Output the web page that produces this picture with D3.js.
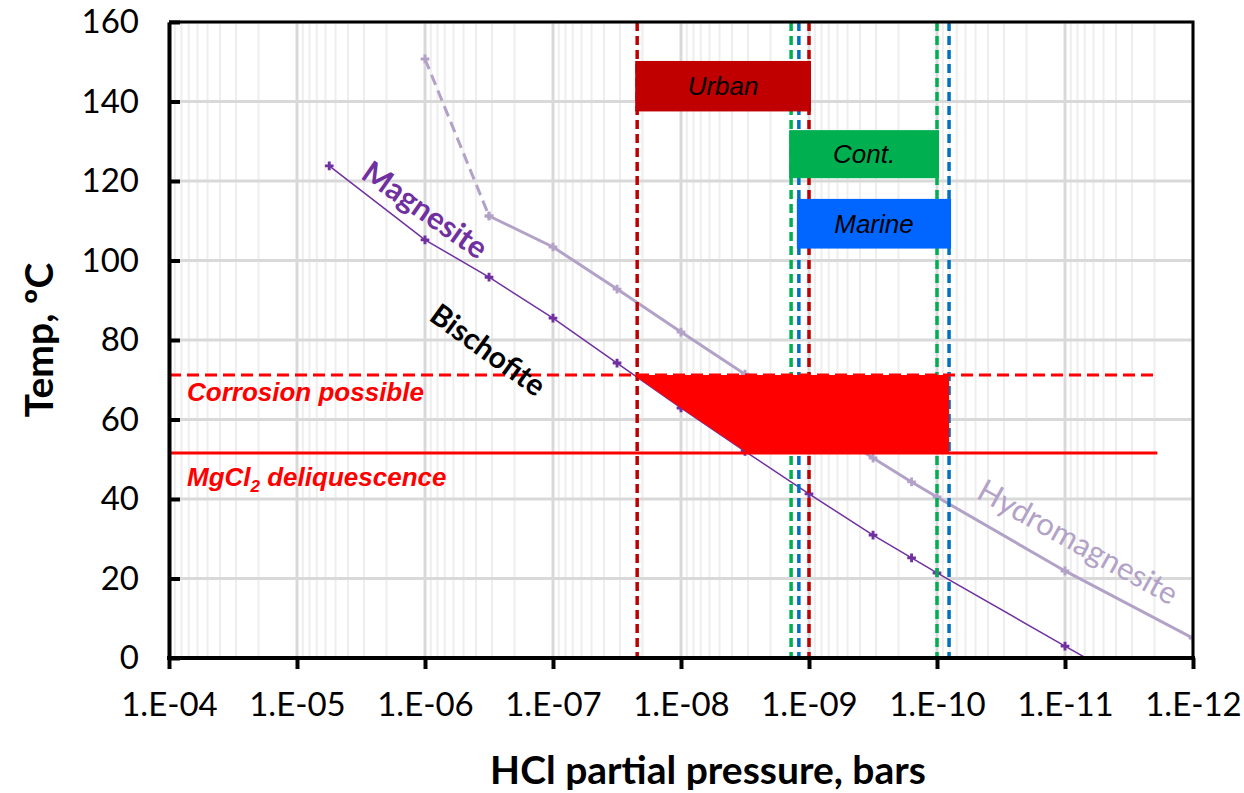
<!DOCTYPE html>
<html>
<head>
<meta charset="utf-8">
<script src="https://cdn.jsdelivr.net/npm/d3@7"></script>
<style>
  body { margin: 0; background: #fff; }
  svg { display: block; }
</style>
</head>
<body>
<svg width="1244" height="793"></svg>
<script>
// Magnesite / Hydromagnesite boundaries (HCl partial pressure in bars, temperature in C)
const magP = [5.6e-6, 1e-6, 3.16e-7, 1e-7, 3.16e-8, 1e-8, 3.16e-9, 1e-9, 3.16e-10, 1.58e-10, 1e-10, 1e-11, 5.6e-12];
const magT = [123.8, 105.2, 95.8, 85.5, 74.2, 62.9, 52.0, 41.3, 30.9, 25.2, 21.4, 3.0, -1.6];

const hydroDashP = [1e-6, 3.16e-7];
const hydroDashT = [150.7, 111.2];
const hydroP = [3.16e-7, 1e-7, 3.16e-8, 1e-8, 3.16e-9, 1e-9, 3.16e-10, 1.58e-10, 1e-10, 1e-11, 1e-12];
const hydroT = [111.2, 103.4, 92.8, 82.0, 71.4, 60.9, 50.3, 44.3, 40.5, 21.9, 5.0];

// environment HCl ranges
const envNames = ["Urban", "Cont.", "Marine"];
const envLow = [2.2e-8, 1.38e-9, 1.2e-9];
const envHigh = [1e-9, 1e-10, 8.05e-11];
const envBoxTop = [150.2, 132.8, 115.5];
const envBoxBottom = [137.5, 120.7, 103];

// thresholds
const corrosionT = 71.2;
const deliqT = 51.6;
const thresholdEndP = 1.9e-12;

const xTicks = [1e-4, 1e-5, 1e-6, 1e-7, 1e-8, 1e-9, 1e-10, 1e-11, 1e-12];
const xTickLabels = ["1.E-04", "1.E-05", "1.E-06", "1.E-07", "1.E-08", "1.E-09", "1.E-10", "1.E-11", "1.E-12"];
const yTicks = [0, 20, 40, 60, 80, 100, 120, 140, 160];

const svg = d3.select("svg");
const pLeft = 169, pRight = 1193, pTop = 22, pBottom = 658;

const x = d3.scaleLog().domain([1e-4, 1e-12]).range([pLeft, pRight]);
const y = d3.scaleLinear().domain([0, 160]).range([pBottom, pTop]);

const envColor = ["#C00000", "#00B050", "#0066FF"];
const envLine = ["#C00000", "#00B050", "#0070C0"];

svg.append("defs").append("clipPath")
  .attr("id", "plot")
  .append("rect")
  .attr("x", pLeft).attr("y", pTop)
  .attr("width", pRight - pLeft).attr("height", pBottom - pTop);

// grid
const minor = [];
for (let e = -5; e >= -12; e--) {
  for (let m = 2; m <= 9; m++) minor.push(m * Math.pow(10, e));
}
svg.append("g")
  .selectAll("line")
  .data(minor)
  .enter().append("line")
  .attr("x1", d => x(d)).attr("x2", d => x(d))
  .attr("y1", pTop).attr("y2", pBottom)
  .attr("stroke", "#EEEEEE")
  .attr("stroke-width", 2);

svg.append("g")
  .selectAll("line")
  .data(xTicks)
  .enter().append("line")
  .attr("x1", d => x(d)).attr("x2", d => x(d))
  .attr("y1", pTop).attr("y2", pBottom)
  .attr("stroke", "#D9D9D9")
  .attr("stroke-width", 3);

svg.append("g")
  .selectAll("line")
  .data(yTicks)
  .enter().append("line")
  .attr("x1", pLeft).attr("x2", pRight)
  .attr("y1", d => y(d)).attr("y2", d => y(d))
  .attr("stroke", "#D9D9D9")
  .attr("stroke-width", 3);

const plot = svg.append("g").attr("clip-path", "url(#plot)");

const line = d3.line()
  .x(d => x(d[0]))
  .y(d => y(d[1]));

const hydroDash = hydroDashP.map((p, i) => [p, hydroDashT[i]]);
const hydro = hydroP.map((p, i) => [p, hydroT[i]]);
const mag = magP.map((p, i) => [p, magT[i]]);

const plus = d3.symbol().type(d3.symbolCross).size(42);

plot.append("path")
  .datum(hydroDash)
  .attr("d", line)
  .attr("fill", "none")
  .attr("stroke", "#B3A2C7")
  .attr("stroke-width", 3)
  .attr("stroke-dasharray", "11,6");

plot.append("path")
  .datum(hydro)
  .attr("d", line)
  .attr("fill", "none")
  .attr("stroke", "#B3A2C7")
  .attr("stroke-width", 3);

plot.append("g")
  .selectAll("path")
  .data(hydroDash.concat(hydro))
  .enter().append("path")
  .attr("d", plus)
  .attr("transform", d => `translate(${x(d[0])},${y(d[1])})`)
  .attr("fill", "#B3A2C7");

plot.append("path")
  .datum(mag)
  .attr("d", line)
  .attr("fill", "none")
  .attr("stroke", "#7030A0")
  .attr("stroke-width", 1.5);

plot.append("g")
  .selectAll("path")
  .data(mag)
  .enter().append("path")
  .attr("d", plus)
  .attr("transform", d => `translate(${x(d[0])},${y(d[1])})`)
  .attr("fill", "#7030A0");

// vertical environment lines
envNames.forEach((name, i) => {
  [envLow[i], envHigh[i]].forEach(p => {
    plot.append("line")
      .attr("x1", x(p)).attr("x2", x(p))
      .attr("y1", pTop).attr("y2", pBottom)
      .attr("stroke", envLine[i])
      .attr("stroke-width", 3.5)
      .attr("stroke-dasharray", "9,5");
  });
});

// corrosion region: between deliquescence and corrosion temps, right of the magnesite line
const logX = p => Math.log10(p);
const pOnMag = t => {
  for (let i = 0; i < magT.length - 1; i++) {
    if ((magT[i] - t) * (magT[i + 1] - t) <= 0) {
      const f = (t - magT[i]) / (magT[i + 1] - magT[i]);
      return Math.pow(10, logX(magP[i]) + f * (logX(magP[i + 1]) - logX(magP[i])));
    }
  }
};
const region = [[pOnMag(corrosionT), corrosionT]];
magP.forEach((p, i) => {
  if (magT[i] < corrosionT && magT[i] > deliqT) region.push([p, magT[i]]);
});
region.push([pOnMag(deliqT), deliqT]);
region.push([envHigh[2], deliqT]);
region.push([envHigh[2], corrosionT]);

plot.append("path")
  .datum(region)
  .attr("d", d3.line().x(d => x(d[0])).y(d => y(d[1])).curve(d3.curveLinearClosed))
  .attr("fill", "#FF0000");

plot.append("line")
  .attr("x1", pLeft).attr("x2", x(thresholdEndP))
  .attr("y1", y(corrosionT)).attr("y2", y(corrosionT))
  .attr("stroke", "#FF0000")
  .attr("stroke-width", 3)
  .attr("stroke-dasharray", "12,6");

plot.append("line")
  .attr("x1", pLeft).attr("x2", x(thresholdEndP))
  .attr("y1", y(deliqT)).attr("y2", y(deliqT))
  .attr("stroke", "#FF0000")
  .attr("stroke-width", 3);

// environment boxes
envNames.forEach((name, i) => {
  const x0 = x(envLow[i]) - 2, x1 = x(envHigh[i]) + 2;
  plot.append("rect")
    .attr("x", x0)
    .attr("y", y(envBoxTop[i]))
    .attr("width", x1 - x0)
    .attr("height", y(envBoxBottom[i]) - y(envBoxTop[i]))
    .attr("fill", envColor[i]);
  plot.append("text")
    .attr("x", (x0 + x1) / 2)
    .attr("y", (y(envBoxTop[i]) + y(envBoxBottom[i])) / 2)
    .attr("dy", "0.35em")
    .attr("text-anchor", "middle")
    .attr("font-family", "Liberation Sans, Arial, sans-serif")
    .attr("font-style", "italic")
    .attr("font-size", 26)
    .attr("fill", "#000")
    .text(name);
});

// threshold labels
svg.append("text")
  .attr("x", 187).attr("y", 401)
  .attr("font-family", "Liberation Sans, Arial, sans-serif")
  .attr("font-style", "italic")
  .attr("font-weight", "bold")
  .attr("font-size", 26)
  .attr("fill", "#FF0000")
  .text("Corrosion possible");

const mg = svg.append("text")
  .attr("x", 187).attr("y", 486)
  .attr("font-family", "Liberation Sans, Arial, sans-serif")
  .attr("font-style", "italic")
  .attr("font-weight", "bold")
  .attr("font-size", 26)
  .attr("fill", "#FF0000");
mg.append("tspan").text("MgCl");
mg.append("tspan").attr("font-size", 17).attr("dy", 6).text("2");
mg.append("tspan").attr("dy", -6).text(" deliquescence");

// phase labels
const phaseLabel = (text, cx, cy, angle, color, weight, size) => {
  svg.append("text")
    .attr("transform", `translate(${cx},${cy}) rotate(${angle})`)
    .attr("text-anchor", "middle")
    .attr("dy", "0.35em")
    .attr("font-family", "Lato, sans-serif")
    .attr("font-weight", weight)
    .attr("font-size", size)
    .attr("fill", color)
    .text(text);
};
phaseLabel("Magnesite", 425, 210, 35, "#7030A0", "bold", 31);
phaseLabel("Bischofite", 488, 350, 36, "#000", "bold", 30);
phaseLabel("Hydromagnesite", 1078, 542, 29, "#B3A2C7", "normal", 31);

// axes
const xAxis = svg.append("g")
  .attr("transform", `translate(0,${pBottom})`)
  .call(d3.axisBottom(x)
    .tickValues(xTicks)
    .tickSize(11)
    .tickFormat((d, i) => xTickLabels[i]));
xAxis.select(".domain")
  .attr("stroke", "#000")
  .attr("stroke-width", 4)
  .attr("d", `M${pLeft - 2},0H${pRight + 2}`);
xAxis.selectAll(".tick line").attr("stroke-width", 4);
xAxis.selectAll(".tick text")
  .attr("y", 35)
  .attr("dy", "0.71em")
  .attr("font-family", "Lato, sans-serif")
  .attr("font-size", 33)
  .attr("fill", "#000");

const yAxis = svg.append("g")
  .attr("transform", `translate(${pLeft},0)`)
  .call(d3.axisLeft(y)
    .tickValues(yTicks)
    .tickSizeInner(-11)
    .tickSizeOuter(0));
yAxis.select(".domain")
  .attr("stroke", "#000")
  .attr("stroke-width", 4);
yAxis.selectAll(".tick line").attr("stroke-width", 4);
yAxis.selectAll(".tick text")
  .attr("x", -30)
  .attr("font-family", "Lato, sans-serif")
  .attr("font-size", 33)
  .attr("fill", "#000");

// top and right frame
svg.append("path")
  .attr("d", `M${pLeft},${pTop}H${pRight}V${pBottom}`)
  .attr("fill", "none")
  .attr("stroke", "#000")
  .attr("stroke-width", 3);

svg.append("text")
  .attr("x", 708).attr("y", 784)
  .attr("text-anchor", "middle")
  .attr("font-family", "Lato, sans-serif")
  .attr("font-weight", "bold")
  .attr("font-size", 39)
  .attr("fill", "#000")
  .text("HCl partial pressure, bars");

svg.append("text")
  .attr("transform", `translate(53,${340}) rotate(-90)`)
  .attr("text-anchor", "middle")
  .attr("font-family", "Lato, sans-serif")
  .attr("font-weight", "bold")
  .attr("font-size", 39)
  .attr("fill", "#000")
  .text("Temp, ºC");
</script>
</body>
</html>
